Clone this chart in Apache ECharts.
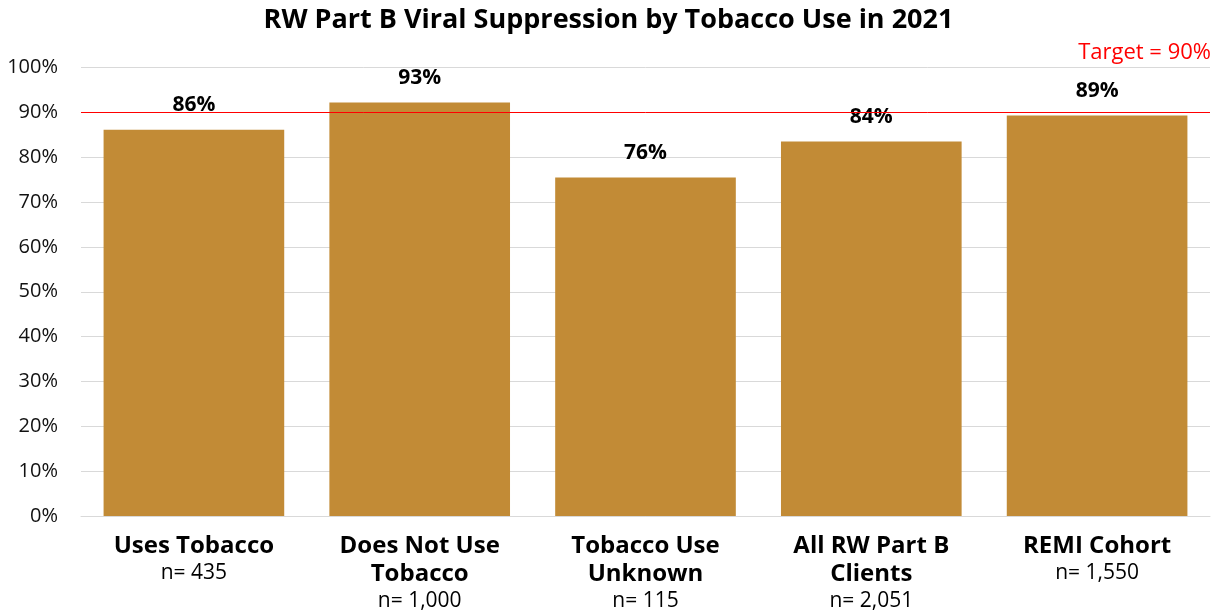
<!DOCTYPE html>
<html>
<head>
<meta charset="utf-8">
<script src="https://cdn.jsdelivr.net/npm/echarts@6/dist/echarts.min.js"></script>
<style>
html,body{margin:0;padding:0;background:#fff;}
#c{width:1217px;height:613px;}
</style>
</head>
<body>
<div id="c"></div>
<script>
const titleText = 'RW Part B Viral Suppression by Tobacco Use in 2021';
const categoryNames = ['Uses Tobacco', 'Does Not Use\nTobacco', 'Tobacco Use\nUnknown', 'All RW Part B\nClients', 'REMI Cohort'];
const categoryCounts = ['n= 435', 'n= 1,000', 'n= 115', 'n= 2,051', 'n= 1,550'];
const suppressionValues = [86.1, 92.2, 75.5, 83.5, 89.3];
const valueLabels = ['86%', '93%', '76%', '84%', '89%'];
const targetValue = 90;
const targetText = 'Target = 90%';
const yTicks = [0, 10, 20, 30, 40, 50, 60, 70, 80, 90, 100];

const FONT = '"Open Sans", sans-serif';
const chart = echarts.init(document.getElementById('c'));

const categories = categoryNames.map((n, i) => {
  const lines = n.split('\n').map(l => '{b|' + l + '}').join('\n');
  return lines + '\n{n|' + categoryCounts[i] + '}';
});

chart.setOption({
  animation: false,
  backgroundColor: '#fff',
  textStyle: { fontFamily: FONT },
  title: {
    text: titleText,
    left: 'center',
    top: 2,
    textStyle: { fontFamily: FONT, fontWeight: 'bold', fontSize: 27, color: '#000' }
  },
  graphic: [{
    type: 'text',
    right: 6,
    top: 42,
    style: { text: targetText, fill: '#FF0000', font: '22px ' + FONT }
  }],
  grid: { left: 81, right: 7, top: 67.5, bottom: 97, containLabel: false },
  xAxis: {
    type: 'category',
    data: categories,
    axisTick: { show: false },
    axisLine: { show: true, lineStyle: { color: '#D9D9D9', width: 1 } },
    axisLabel: {
      interval: 0,
      margin: 16,
      rich: {
        b: { fontFamily: FONT, fontWeight: 'bold', fontSize: 24, color: '#000', lineHeight: 28 },
        n: { fontFamily: FONT, fontSize: 21, color: '#000', lineHeight: 27 }
      }
    }
  },
  yAxis: {
    type: 'value',
    min: 0,
    max: 100,
    interval: 10,
    axisLine: { show: false },
    axisTick: { show: false },
    splitLine: { lineStyle: { color: '#D9D9D9', width: 1 } },
    axisLabel: {
      margin: 23,
      fontFamily: FONT,
      fontSize: 20,
      color: '#111',
      formatter: v => yTicks.includes(v) ? v + '%' : ''
    }
  },
  series: [{
    type: 'bar',
    data: suppressionValues,
    barCategoryGap: '20%',
    itemStyle: { color: '#C28B36' },
    label: {
      show: true,
      position: 'top',
      distance: 14,
      fontFamily: FONT,
      fontWeight: 'bold',
      fontSize: 21,
      color: '#000',
      formatter: p => valueLabels[p.dataIndex]
    },
    markLine: {
      silent: true,
      symbol: 'none',
      label: { show: false },
      lineStyle: { color: '#FF0000', width: 1, type: 'solid' },
      data: [{ yAxis: targetValue }]
    }
  }]
});
</script>
</body>
</html>
